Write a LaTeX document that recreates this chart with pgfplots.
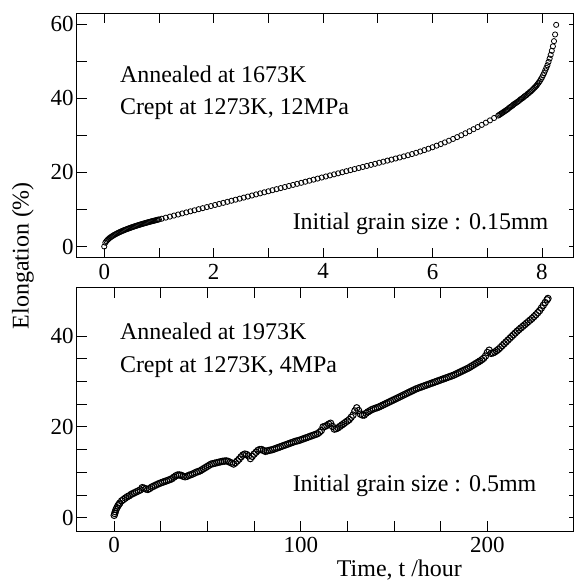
\documentclass[border=0pt]{standalone}
\usepackage{pgfplots}
\pgfplotsset{compat=1.18}
\usepackage{fontspec}
\setmainfont{Liberation Serif}
\newcommand{\tk}{\fontsize{23}{26}\selectfont}
\newcommand{\tx}{\fontsize{24}{27}\selectfont}
\pgfplotsset{
  myax/.style={
    scale only axis, width=497pt,
    /pgf/number format/assume math mode=true,
    tick label style={font=\tk},
    yticklabel style={inner sep=3pt},
    xticklabel style={inner sep=6pt},
    tick align=inside, xtick pos=both, ytick pos=left,
    major tick length=10pt, minor tick length=10pt,
    axis line style={line width=0.9pt},
    every tick/.style={black, line width=0.8pt},
  },
  rightax/.style={
    scale only axis, width=497pt, hide x axis, axis y line*=right,
    yticklabels={}, tick align=inside,
    major tick length=4pt, minor tick length=4pt,
    axis line style={line width=0.9pt},
    every tick/.style={black, line width=0.8pt},
  },
}
\begin{document}
\begin{tikzpicture}
\path (0pt,0pt) rectangle (575pt,-580pt);
% ---------------- top panel ----------------
\begin{axis}[myax, height=245pt, at={(77pt,-258pt)}, anchor=south west,
  xmin=-0.5, xmax=8.57, ymin=-3, ymax=63,
  xtick={0,2,4,6,8}, minor x tick num=1,
  ytick={0,20,40,60}, minor y tick num=1]
\addplot[only marks, mark=o, mark size=2.6pt, mark options={line width=0.8pt, black}] coordinates {
(0,0) (0.02,1.03) (0.04,1.46) (0.06,1.79) (0.08,2.06) (0.10,2.31) (0.12,2.53) (0.14,2.73) (0.16,2.92) (0.18,3.10)
(0.20,3.26) (0.22,3.42) (0.24,3.58) (0.26,3.72) (0.28,3.86) (0.30,4.00) (0.32,4.13) (0.34,4.26) (0.36,4.38) (0.38,4.50)
(0.40,4.62) (0.42,4.73) (0.44,4.84) (0.46,4.95) (0.48,5.06) (0.50,5.16) (0.52,5.26) (0.54,5.36) (0.56,5.46) (0.58,5.56)
(0.60,5.65) (0.62,5.75) (0.64,5.84) (0.66,5.93) (0.68,6.02) (0.70,6.11) (0.72,6.19) (0.74,6.28) (0.76,6.36) (0.78,6.45)
(0.80,6.53) (0.82,6.61) (0.84,6.69) (0.86,6.77) (0.88,6.85) (0.90,6.93) (0.92,7.00) (0.94,7.08) (0.96,7.15) (0.98,7.23) (1.00,7.30)
(1.05,7.49) (1.125,7.78) (1.2,8.06) (1.275,8.35) (1.35,8.63) (1.425,8.92) (1.5,9.20) (1.575,9.49) (1.65,9.77) (1.725,10.06)
(1.8,10.34) (1.875,10.63) (1.95,10.91) (2.025,11.20) (2.1,11.48) (2.175,11.77) (2.25,12.05) (2.325,12.34) (2.4,12.62) (2.475,12.91)
(2.55,13.19) (2.625,13.48) (2.7,13.76) (2.775,14.05) (2.85,14.33) (2.925,14.62) (3.0,14.90) (3.075,15.19) (3.15,15.47) (3.225,15.76)
(3.3,16.04) (3.375,16.33) (3.45,16.61) (3.525,16.90) (3.6,17.18) (3.675,17.47) (3.75,17.75) (3.825,18.04) (3.9,18.32) (3.975,18.61)
(4.05,18.89) (4.125,19.18) (4.2,19.46) (4.275,19.75) (4.35,20.03) (4.425,20.32) (4.5,20.60) (4.575,20.89) (4.65,21.17) (4.725,21.46)
(4.8,21.74) (4.875,22.03) (4.95,22.31) (5.025,22.60) (5.1,22.88) (5.175,23.17) (5.25,23.45) (5.325,23.74) (5.4,24.02) (5.475,24.31)
(5.55,24.62) (5.625,24.94) (5.7,25.28) (5.775,25.63) (5.85,26.00) (5.925,26.38) (6.0,26.78) (6.075,27.20) (6.15,27.63) (6.225,28.08)
(6.3,28.54) (6.375,29.02) (6.45,29.51) (6.525,30.02) (6.6,30.55) (6.675,31.09) (6.75,31.65) (6.825,32.22) (6.9,32.81) (6.975,33.41)
(7.05,34.03) (7.125,34.67) (7.2,35.32)
(7.22,35.5) (7.24,35.7) (7.26,35.9) (7.28,36.1) (7.30,36.3) (7.32,36.5) (7.34,36.7) (7.36,36.9) (7.38,37.1) (7.40,37.4)
(7.42,37.6) (7.44,37.8) (7.46,38.0) (7.48,38.3) (7.50,38.5) (7.52,38.7) (7.54,38.9) (7.56,39.1) (7.58,39.3) (7.60,39.6)
(7.62,39.8) (7.64,40.0) (7.66,40.2) (7.68,40.5) (7.70,40.7) (7.72,40.9) (7.74,41.2) (7.76,41.4) (7.78,41.7) (7.80,41.9)
(7.82,42.2) (7.84,42.5) (7.86,42.8) (7.88,43.1) (7.90,43.4) (7.92,43.8) (7.94,44.2) (7.96,44.6) (7.98,45.1) (8.00,45.6)
(8.02,46.2) (8.04,46.8) (8.06,47.5) (8.08,48.2) (8.10,48.9) (8.12,49.8) (8.14,50.7) (8.16,51.7) (8.18,52.8) (8.20,54.0)
(8.22,55.4) (8.24,57.2) (8.26,59.8)
};
\end{axis}
\begin{axis}[rightax, height=245pt, at={(77pt,-258pt)}, anchor=south west,
  xmin=-0.5, xmax=8.57, ymin=-3, ymax=63,
  ytick={0,20,40,60}, minor y tick num=1]
\end{axis}
% ---------------- bottom panel ----------------
\begin{axis}[myax, height=244pt, at={(77pt,-532pt)}, anchor=south west,
  xmin=-20, xmax=246, ymin=-3, ymax=50.7,
  xtick={0,100,200}, minor x tick num=3,
  ytick={0,20,40}, minor y tick num=3]
\addplot[only marks, mark=o, mark size=3.2pt, mark options={line width=1.0pt, black}] coordinates {
(0,0.5) (0.3,0.9) (0.6,1.3) (1,1.8) (1.5,2.2) (2,2.6) (2.5,2.9) (3,3.2) (4,3.7) (5,4.0) (6,4.3) (7,4.6) (8,4.8) (9,5.1)
(10,5.3) (11,5.5) (12,5.7) (13,5.9) (14,6.1) (15,6.6) (16,6.5) (17,6.3) (18,6.2) (19,6.4)
(20,6.7) (21,6.9) (22,7.1) (23,7.3) (24,7.5) (25,7.65) (26,7.8) (27,7.95) (28,8.1) (29,8.25) (30,8.4) (31,8.6) (32,8.9)
(33,9.2) (34,9.4) (35,9.4) (36,9.3) (37,9.1) (38,9.0) (39,9.1) (40,9.3) (41,9.45) (42,9.6) (43,9.8) (44,10.0) (45,10.15)
(46,10.3) (47,10.55) (48,10.8) (49,11.05) (50,11.3) (51,11.55) (52,11.8) (53,11.9) (54,12.0) (55,12.1) (56,12.2) (57,12.3)
(58,12.4) (59,12.45) (60,12.5) (61,12.4) (62,12.2) (63,12.0) (64,11.8) (65,12.1) (66,12.5) (67,12.9) (68,13.4) (69,13.8)
(70,14.0) (71,13.9) (72,13.6) (73,13.0) (74,13.5) (75,14.0) (76,14.4) (77,14.8) (78,15.0) (79,15.0) (80,14.8) (81,14.6)
(82,14.7) (83,14.8) (84,14.9) (85,15.0) (86,15.15) (87,15.3) (88,15.45) (89,15.6) (90,15.75) (91,15.9) (92,16.05) (93,16.2)
(94,16.35) (95,16.5) (96,16.65) (97,16.8) (98,16.9) (99,17.0) (100,17.15) (101,17.3) (102,17.45) (103,17.6) (104,17.75)
(105,17.9) (106,18.05) (107,18.2) (108,18.35) (109,18.5) (110,18.8) (111,19.2) (112,20.0) (113,20.1) (114,20.3) (115,20.6)
(116,20.8) (117,20.1) (118,19.5) (119,19.6) (120,19.8) (121,20.1) (122,20.4) (123,20.7) (124,21.0) (125,21.3) (126,21.6)
(127,22.1) (128,22.6) (129,23.5) (130,24.2) (131,23.6) (132,22.8) (133,22.6) (134,22.6) (135,23.0) (136,23.3) (137,23.55)
(138,23.8) (139,23.95) (140,24.1) (141,24.25) (142,24.4) (143,24.6) (144,24.8) (145,25.0) (146,25.2) (147,25.4) (148,25.6)
(149,25.8) (150,26.0) (151,26.2) (152,26.4) (153,26.6) (154,26.8) (155,27.0) (156,27.2) (157,27.4) (158,27.6) (159,27.8)
(160,28.0) (161,28.2) (162,28.4) (163,28.55) (164,28.7) (165,28.85) (166,29.0) (167,29.15) (168,29.3) (169,29.45) (170,29.6)
(171,29.75) (172,29.9) (173,30.05) (174,30.2) (175,30.35) (176,30.5) (177,30.65) (178,30.8) (179,30.95) (180,31.1) (181,31.25)
(182,31.4) (183,31.6) (184,31.8) (185,32.0) (186,32.2) (187,32.4) (188,32.6) (189,32.8) (190,33.0) (191,33.25) (192,33.5)
(193,33.75) (194,34.0) (195,34.25) (196,34.5) (197,34.8) (198,35.1) (199,35.6) (200,36.4) (201,36.9) (202,36.2) (203,36.3)
(204,36.5) (205,36.8) (206,37.1) (207,37.5) (208,37.9) (209,38.3) (210,38.7) (211,39.1) (212,39.5) (213,39.9) (214,40.3)
(215,40.7) (216,41.1) (217,41.45) (218,41.8) (219,42.15) (220,42.5) (221,42.85) (222,43.2) (223,43.55) (224,43.9) (225,44.3)
(226,44.7) (227,45.15) (228,45.6) (229,46.2) (230,46.8) (231,47.4) (232,48.0) (232.5,48.3)
};
\end{axis}
\begin{axis}[rightax, height=244pt, at={(77pt,-532pt)}, anchor=south west,
  xmin=-20, xmax=246, ymin=-3, ymax=50.7,
  ytick={0,20,40}, minor y tick num=3]
\end{axis}
% ---------------- texts ----------------
\node[anchor=base west, inner sep=0pt, font=\tx] at (120pt,-82.7pt) {Annealed at 1673K};
\node[anchor=base west, inner sep=0pt, font=\tx] at (120pt,-115pt) {Crept at 1273K, 12MPa};
\node[anchor=base west, inner sep=0pt, font=\tx] at (293pt,-230pt) {Initial grain size : 0.15mm};
\node[anchor=base west, inner sep=0pt, font=\tx] at (120pt,-340pt) {Annealed at 1973K};
\node[anchor=base west, inner sep=0pt, font=\tx] at (120pt,-373pt) {Crept at 1273K, 4MPa};
\node[anchor=base west, inner sep=0pt, font=\tx] at (293pt,-492pt) {Initial grain size : 0.5mm};
\node[rotate=90, inner sep=0pt, font=\tx] at (23pt,-256pt) {Elongation (\%)};
\node[anchor=base, inner sep=0pt, font=\tx] at (400pt,-577pt) {Time, t /hour};
\end{tikzpicture}
\end{document}
